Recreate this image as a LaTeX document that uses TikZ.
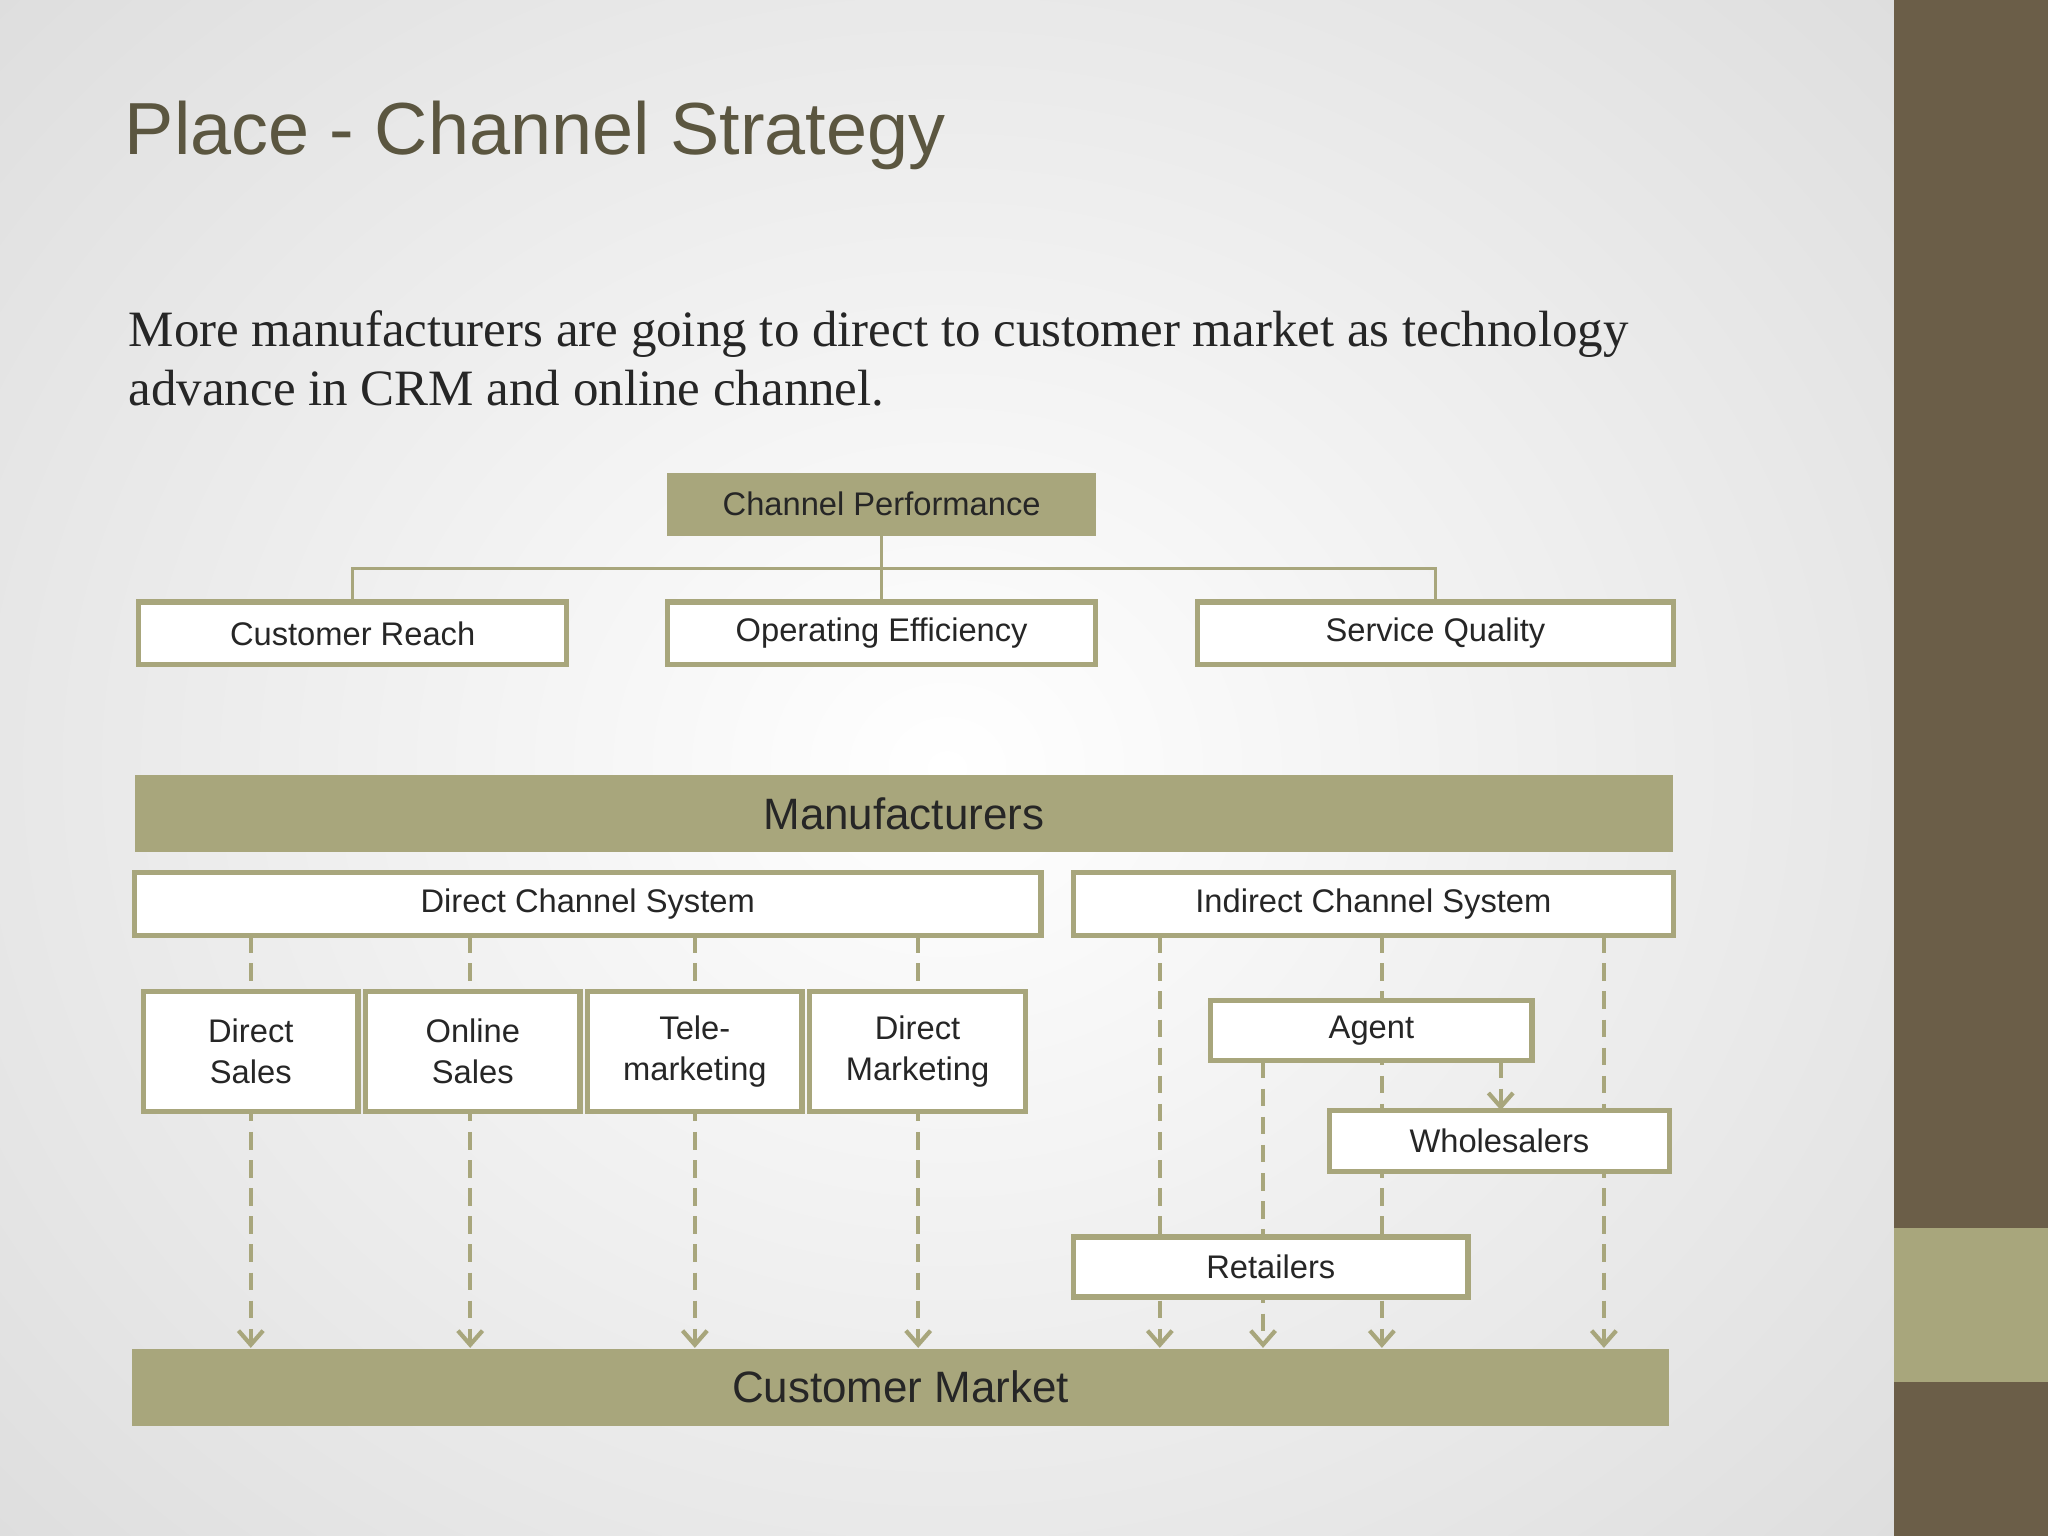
\documentclass[tikz,border=0pt]{standalone}
\usepackage{fontspec}
\setmainfont{Liberation Serif}
\newfontfamily\sansf{Liberation Sans}
\usetikzlibrary{arrows.meta}
\definecolor{olive}{HTML}{A8A67C}
\definecolor{brownbar}{HTML}{6B5E48}
\definecolor{titlec}{HTML}{5B5640}
\begin{document}
\begin{tikzpicture}[x=0.0130612cm,y=-0.0130612cm,
  sz/.style 2 args={minimum width=#1*0.0130612cm,minimum height=#2*0.0130612cm},
  box/.style={draw=olive,line width=1.5pt,fill=white,font=\sansf\fontsize{9.3}{11.5}\selectfont,text=black!85,inner sep=0pt,align=center},
  fbox/.style={fill=olive,inner sep=0pt,font=\sansf,text=black!85},
  dl/.style={draw=olive,line width=1.2pt,dash pattern=on 5pt off 3pt},
  arr/.style={dl,-{Straight Barb[length=4pt,width=7pt,line width=1.2pt]}}]
\useasboundingbox (0,0) rectangle (1568,1176);
\begin{scope}
\clip (0,0) rectangle (1450,1176);
\shade[inner color=white,outer color=black!14] (-350,-350) rectangle (1800,1526);
\end{scope}
\fill[brownbar] (1450,0) rectangle (1568,1176);
\fill[olive] (1450,940) rectangle (1568,1058);
\node[anchor=west,font=\sansf\fontsize{21}{25}\selectfont,text=titlec,inner sep=0pt] (title) at (95,104) {Place - Channel Strategy};
\node[anchor=north west,font=\fontsize{14.5}{17}\selectfont,text=black!85,align=left,inner sep=0pt] (body) at (98,237) {More manufacturers are going to direct to customer market as technology\\advance in CRM and online channel.};
% top tree
\node[fbox,sz={328}{48},font=\sansf\fontsize{9.3}{11}\selectfont] (cp) at (675,386) {Channel Performance};
\node[box,sz={328}{48}] (cr) at (270,485) {Customer Reach};
\node[box,sz={328}{48}] (oe) at (675,485) {Operating Efficiency};
\node[box,sz={364}{48}] (sq) at (1099,485) {Service Quality};
\coordinate (j) at (675,435);
\draw[olive,line width=0.9pt] (cp.south) -- (oe.north);
\draw[olive,line width=0.9pt] (cr.north) |- (j) -| (sq.north);
% main bars
\node[fbox,sz={1178}{59},font=\sansf\fontsize{12.5}{15}\selectfont] (man) at (692,623) {Manufacturers};
\node[fbox,sz={1177}{59},font=\sansf\fontsize{12.5}{15}\selectfont] (cm) at (689.5,1062) {Customer Market};
% direct
\foreach \x/\n in {192/a,360/b,532/c,703/d}{
  \coordinate (s\n) at (\x,716); \coordinate (e\n) at (\x,1032);
  \draw[arr] (s\n) -- (e\n);}
\node[box,sz={694}{48}] (dcs) at (450,692) {Direct Channel System};
\node[box,sz={164}{92}] (ds) at (192,805) {Direct\\Sales};
\node[box,sz={164}{92}] (os) at (362,805) {Online\\Sales};
\node[box,sz={164}{92}] (tm) at (532,805) {Tele-\\marketing};
\node[box,sz={165}{92}] (dm) at (702.5,805) {Direct\\Marketing};
% indirect
\coordinate (i1) at (888,716); \coordinate (m1) at (888,1032);
\coordinate (i2) at (1058,716); \coordinate (m2) at (1058,1032);
\coordinate (i3) at (1228,716); \coordinate (m3) at (1228,1032);
\coordinate (a1) at (967,812); \coordinate (m4) at (967,1032);
\coordinate (a2) at (1149,812); \coordinate (w2) at (1149,850);
\draw[arr] (i1) -- (m1);
\draw[arr] (i2) -- (m2);
\draw[arr] (i3) -- (m3);
\draw[arr] (a1) -- (m4);
\draw[arr] (a2) -- (w2);
\node[box,sz={459}{48}] (ics) at (1051.5,692) {Indirect Channel System};
\node[box,sz={246}{46}] (ag) at (1050,789) {Agent};
\node[box,sz={260}{47}] (wh) at (1148,873.5) {Wholesalers};
\node[box,sz={302}{46}] (re) at (973,970) {Retailers};
\end{tikzpicture}
\end{document}
